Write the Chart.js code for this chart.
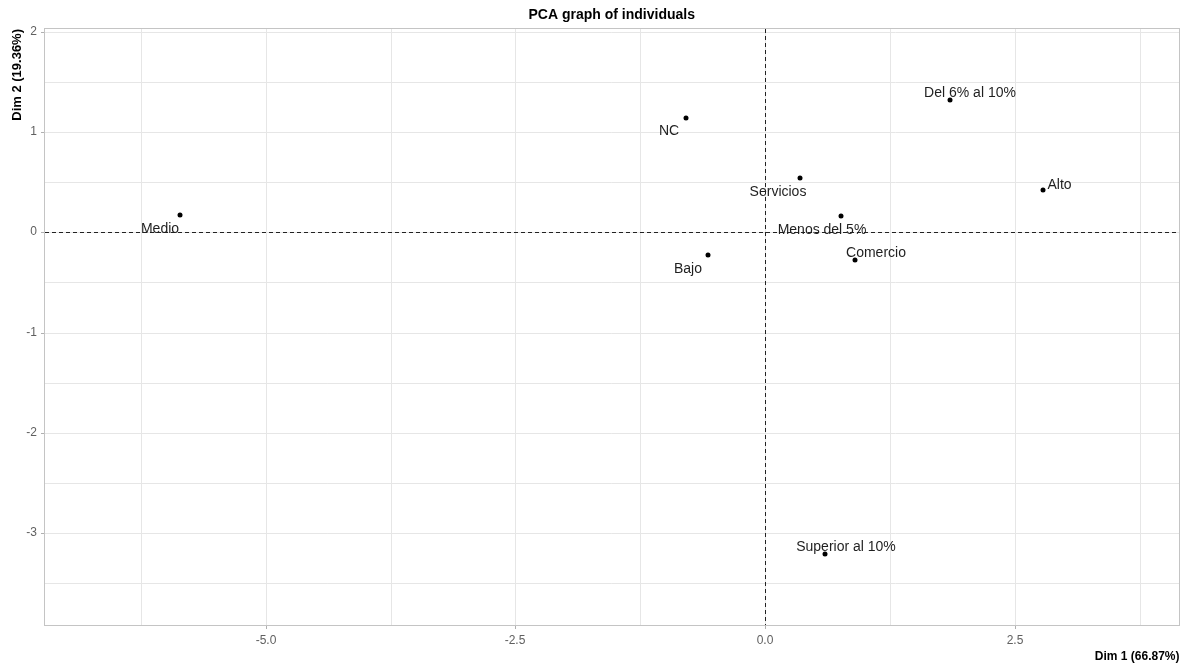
<!DOCTYPE html>
<html>
<head>
<meta charset="utf-8">
<script src="https://cdn.jsdelivr.net/npm/chart.js@4.4.1/dist/chart.umd.min.js"></script>
<style>
  html, body { margin: 0; padding: 0; background: #ffffff; }
  #wrap { width: 1182px; height: 665px; }
</style>
</head>
<body>
<div id="wrap"><canvas id="c" width="1182" height="665"></canvas></div>
<script>
// Individuals projected on the first two principal dimensions
const individuals = ['Medio', 'NC', 'Servicios', 'Menos del 5%', 'Comercio', 'Bajo', 'Del 6% al 10%', 'Alto', 'Superior al 10%'];
const dim1 = [-5.854, -0.793, 0.346, 0.759, 0.899, -0.573, 1.848, 2.779, 0.603];
const dim2 = [0.170, 1.137, 0.544, 0.160, -0.276, -0.226, 1.317, 0.427, -3.210];

// Grid positions (major + minor) and the labelled major ticks
const xGrid = [-6.25, -5, -3.75, -2.5, -1.25, 0, 1.25, 2.5, 3.75];
const xMajor = [-5, -2.5, 0, 2.5];
const yGrid = [-3.5, -3, -2.5, -2, -1.5, -1, -0.5, 0, 0.5, 1, 1.5, 2];
const yMajor = [-3, -2, -1, 0, 1, 2];

const chartTitle = 'PCA graph of individuals';
const xTitle = 'Dim 1 (66.87%)';
const yTitle = 'Dim 2 (19.36%)';

const points = dim1.map((x, i) => ({ x: x, y: dim2[i] }));

// Pixel nudges for the point labels, keeping them clear of the dots
const labelNudge = [[-20, 14], [-17, 13], [-22, 14], [-19, 14], [21, -7], [-20, 14], [20, -7], [16.5, -5], [21, -7]];

const FONT = '"Liberation Sans", Arial, "DejaVu Sans", sans-serif';

const pcaDecor = {
  id: 'pcaDecor',
  beforeDraw(chart) {
    const ctx = chart.ctx;
    ctx.save();
    ctx.fillStyle = '#ffffff';
    ctx.fillRect(0, 0, chart.width, chart.height);
    ctx.restore();
  },
  beforeDatasetsDraw(chart) {
    const ctx = chart.ctx;
    const a = chart.chartArea;
    const xs = chart.scales.x, ys = chart.scales.y;
    ctx.save();
    // panel frame
    ctx.strokeStyle = '#c4c4c4';
    ctx.lineWidth = 1;
    ctx.strokeRect(Math.round(a.left) + 0.5, Math.round(a.top) + 0.5,
                   Math.round(a.right - a.left) - 1, Math.round(a.bottom - a.top) - 1);
    // dashed reference lines through the origin
    ctx.strokeStyle = '#222222';
    ctx.setLineDash([4, 3]);
    const x0 = Math.round(xs.getPixelForValue(0)) + 0.5;
    const y0 = Math.round(ys.getPixelForValue(0)) + 0.5;
    ctx.beginPath();
    ctx.moveTo(a.left + 1, y0);
    ctx.lineTo(a.right - 1, y0);
    ctx.stroke();
    ctx.beginPath();
    ctx.moveTo(x0, a.top + 1);
    ctx.lineTo(x0, a.bottom - 1);
    ctx.stroke();
    ctx.restore();
  },
  afterDatasetsDraw(chart) {
    const ctx = chart.ctx;
    const meta = chart.getDatasetMeta(0);
    ctx.save();
    ctx.font = '14px ' + FONT;
    ctx.fillStyle = '#1f1f1f';
    ctx.textAlign = 'center';
    ctx.textBaseline = 'middle';
    meta.data.forEach((el, i) => {
      const n = labelNudge[i];
      ctx.fillText(individuals[i], el.x + n[0], el.y + n[1]);
    });
    ctx.restore();
  },
  afterDraw(chart) {
    const ctx = chart.ctx;
    const a = chart.chartArea;
    ctx.save();
    ctx.fillStyle = '#000000';
    ctx.font = 'bold 14px ' + FONT;
    ctx.textAlign = 'center';
    ctx.textBaseline = 'alphabetic';
    ctx.fillText(chartTitle, (a.left + a.right) / 2, 19);

    ctx.font = 'bold 12px ' + FONT;
    ctx.textAlign = 'right';
    ctx.fillText(xTitle, a.right, 660);

    ctx.translate(21, a.top + 1);
    ctx.rotate(-Math.PI / 2);
    ctx.textAlign = 'right';
    ctx.font = 'bold 13px ' + FONT;
    ctx.fillText(yTitle, 0, 0);
    ctx.restore();
  }
};

new Chart(document.getElementById('c'), {
  type: 'scatter',
  data: {
    datasets: [{
      data: points,
      backgroundColor: '#000000',
      borderColor: '#000000',
      pointRadius: 2.5,
      pointHoverRadius: 2.5,
      borderWidth: 0
    }]
  },
  options: {
    responsive: false,
    animation: false,
    devicePixelRatio: 1,
    layout: { padding: { top: 28, right: 2, bottom: 0, left: 0 } },
    plugins: {
      legend: { display: false },
      title: { display: false },
      tooltip: { enabled: false }
    },
    scales: {
      x: {
        type: 'linear',
        position: 'bottom',
        min: -7.22,
        max: 4.15,
        alignToPixels: true,
        afterBuildTicks(scale) { scale.ticks = xGrid.map(v => ({ value: v })); },
        afterFit(scale) { scale.height = 39; },
        border: { display: false },
        grid: {
          color: '#e6e6e6',
          lineWidth: 1,
          drawTicks: true,
          tickLength: 3,
          tickColor: (c) => (c.tick && xMajor.includes(c.tick.value)) ? '#b0b0b0' : 'rgba(0,0,0,0)'
        },
        ticks: {
          autoSkip: false,
          maxRotation: 0,
          padding: 4,
          color: '#606060',
          font: { family: FONT, size: 12 },
          callback: (v) => xMajor.includes(v) ? Number(v).toFixed(1) : ''
        }
      },
      y: {
        type: 'linear',
        min: -3.93,
        max: 2.04,
        alignToPixels: true,
        afterBuildTicks(scale) { scale.ticks = yGrid.map(v => ({ value: v })); },
        afterFit(scale) { scale.width = 44; },
        border: { display: false },
        grid: {
          color: '#e6e6e6',
          lineWidth: 1,
          drawTicks: true,
          tickLength: 3,
          tickColor: (c) => (c.tick && yMajor.includes(c.tick.value)) ? '#b0b0b0' : 'rgba(0,0,0,0)'
        },
        ticks: {
          autoSkip: false,
          padding: 4,
          color: '#606060',
          font: { family: FONT, size: 12 },
          callback: (v) => yMajor.includes(v) ? String(v) : ''
        }
      }
    }
  },
  plugins: [pcaDecor]
});
</script>
</body>
</html>
